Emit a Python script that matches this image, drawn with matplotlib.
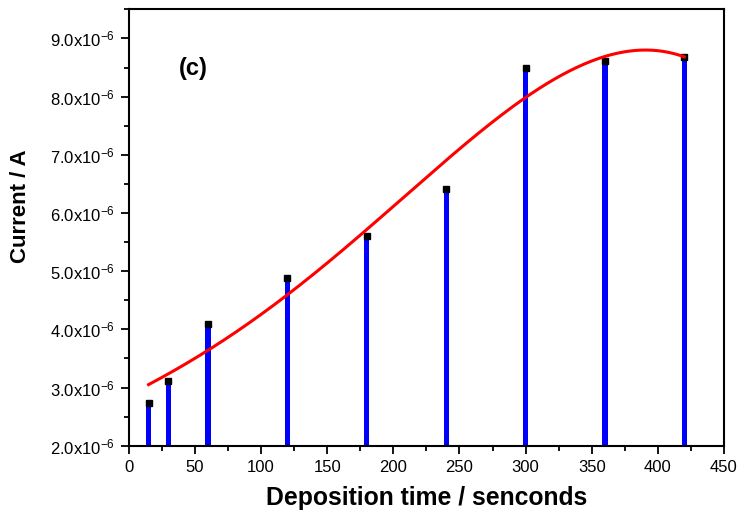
import numpy as np
import matplotlib
matplotlib.use("Agg")
import matplotlib.pyplot as plt
from matplotlib.ticker import MultipleLocator, FuncFormatter

plt.rcParams['font.family'] = ['Liberation Sans', 'DejaVu Sans']
plt.rcParams['mathtext.default'] = 'regular'

# deposition time (s) and measured peak current (A)
dep_time = [15, 30, 60, 120, 180, 240, 300, 360, 420]
current = [2.74e-6, 3.12e-6, 4.09e-6, 4.89e-6, 5.61e-6, 6.41e-6, 8.50e-6, 8.61e-6, 8.685e-6]

# trend line samples (s, A)
fit_time = [15, 60, 120, 180, 240, 300, 360, 392, 420]
fit_current = [3.045e-6, 3.65e-6, 4.6e-6, 5.7e-6, 6.9e-6, 8.02e-6, 8.67e-6, 8.79e-6, 8.695e-6]

fig = plt.figure(figsize=(7.39, 5.20), dpi=100)
ax = fig.add_axes([0.1742, 0.1429, 0.8055, 0.8391])

y0 = 2.0e-6
heights = [c - y0 for c in current]
ax.bar(dep_time, heights, bottom=y0, width=4, color='#0000ff', zorder=2)
ax.plot(dep_time, current, 's', color='black', markersize=4.5, zorder=3)

# smooth trend line
coef = np.polyfit(np.array(fit_time) / 100.0, np.array(fit_current) * 1e6, 4)
xf = np.linspace(fit_time[0], fit_time[-1], 300)
ax.plot(xf, np.polyval(coef, xf / 100.0) * 1e-6, color='#ff0000', linewidth=2.2, zorder=4)

ax.set_xlim(0, 450)
ax.set_ylim(2.0e-6, 9.5e-6)
ax.xaxis.set_major_locator(MultipleLocator(50))
ax.xaxis.set_minor_locator(MultipleLocator(25))
ax.yaxis.set_major_locator(MultipleLocator(1e-6))
ax.yaxis.set_minor_locator(MultipleLocator(0.5e-6))
ax.yaxis.set_major_formatter(FuncFormatter(lambda v, p: r'%.1fx10$^{-6}$' % (v * 1e6)))

ax.tick_params(which='major', direction='out', length=6, width=1.3, labelsize=12, pad=4)
ax.tick_params(which='minor', direction='out', length=3.5, width=1.3)
for s in ax.spines.values():
    s.set_linewidth(1.5)

ax.set_xlabel('Deposition time / senconds', fontsize=17.8, fontweight='bold', labelpad=8)
ax.set_ylabel('Current / A', fontsize=16, fontweight='bold')
ax.yaxis.set_label_coords(-0.165, 0.549)
ax.text(48.7, 8.49e-6, '(c)', fontsize=17, fontweight='bold', ha='center', va='center')

fig.savefig('out.png', dpi=100)
